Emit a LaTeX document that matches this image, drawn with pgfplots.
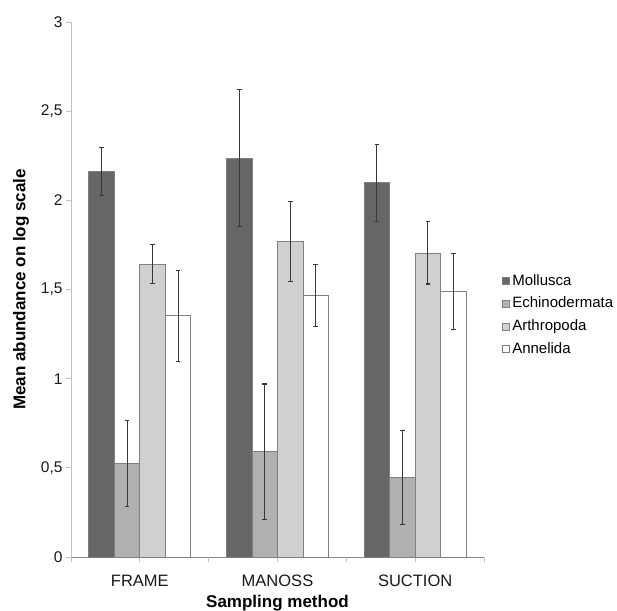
\documentclass[border=0pt]{standalone}
\usepackage{pgfplots}
\pgfplotsset{compat=1.18}
\usepackage{fontspec}
\setmainfont{Liberation Sans}
\definecolor{cMol}{HTML}{666666}
\definecolor{cEch}{HTML}{B0B0B0}
\definecolor{cArt}{HTML}{D0D0D0}
\definecolor{cAnn}{HTML}{FFFFFF}
\definecolor{cEdge}{HTML}{808080}
\definecolor{cAxis}{HTML}{BFBFBF}
\begin{document}
\begin{tikzpicture}
\path[use as bounding box] (-71pt,-53pt) rectangle (546pt,557pt);
\begin{axis}[
  at={(0,0)}, anchor=south west,
  scale only axis, width=413pt, height=535pt,
  ybar=0pt, bar width=25.5pt,
  xmin=-0.5, xmax=2.5, ymin=0, ymax=3,
  xtick={0,1,2}, xticklabels={FRAME,MANOSS,SUCTION},
  extra x ticks={-0.5,0.5,1.5,2.5}, extra x tick labels={},
  extra x tick style={major tick length=5pt},
  ytick={0,0.5,1,1.5,2,2.5,3},
  tick align=outside, major tick length=5pt,
  axis x line*=bottom, axis y line*=left,
  axis line style={draw=cAxis, line width=0.8pt, -},
  x axis line style={draw=black!45},
  tick style={draw=cAxis, line width=0.8pt},
  /pgf/number format/.cd, use comma, 1000 sep={}, assume math mode=true,
  /pgfplots/.cd,
  ticklabel style={font=\fontsize{15.5}{18}\selectfont, text=black!90},
  xticklabel style={anchor=center, yshift=-18.5pt, font=\fontsize{16.5}{18}\selectfont},
  yticklabel style={anchor=east},
  xlabel={Sampling method}, ylabel={Mean abundance on log scale},
  label style={font=\fontsize{17}{20}\selectfont\bfseries},
  xlabel style={at={(axis description cs:0.5,-0.086)}, anchor=center},
  ylabel style={at={(axis description cs:-0.121,0.5)}, anchor=center},
  legend style={at={(axis description cs:1.037,0.452)}, anchor=west,
    draw=none, fill=none, font=\fontsize{15}{18}\selectfont, row sep=8.7pt,
    nodes={inner sep=0pt, text height=11pt, text depth=3pt}},
  legend cell align=left,
  error bars/y dir=both, error bars/y explicit,
  error bars/error bar style={line width=1.1pt, color=black!78},
  error bars/error mark options={rotate=90, mark size=2.4pt, line width=1.1pt, color=black!78},
]
\pgfplotsset{mysq/.style={legend image code/.code={\draw[##1, draw=cEdge, line width=0.8pt] (0pt,-3.5pt) rectangle (7pt,3.5pt); \path (9pt,0pt);}}}
\addplot[fill=cMol, draw=cEdge, line width=0.8pt, mysq] coordinates {(0,2.16) +- (0,0.135) (1,2.236) +- (0,0.383) (2,2.098) +- (0,0.217)};
\addplot[fill=cEch, draw=cEdge, line width=0.8pt, mysq] coordinates {(0,0.525) +- (0,0.24) (1,0.59) +- (0,0.38) (2,0.445) +- (0,0.264)};
\addplot[fill=cArt, draw=cEdge, line width=0.8pt, mysq] coordinates {(0,1.642) +- (0,0.11) (1,1.767) +- (0,0.224) (2,1.705) +- (0,0.174)};
\addplot[fill=cAnn, draw=cEdge, line width=0.8pt, mysq] coordinates {(0,1.353) +- (0,0.256) (1,1.466) +- (0,0.175) (2,1.49) +- (0,0.214)};
\legend{Mollusca,Echinodermata,Arthropoda,Annelida}
\end{axis}
\end{tikzpicture}
\end{document}
